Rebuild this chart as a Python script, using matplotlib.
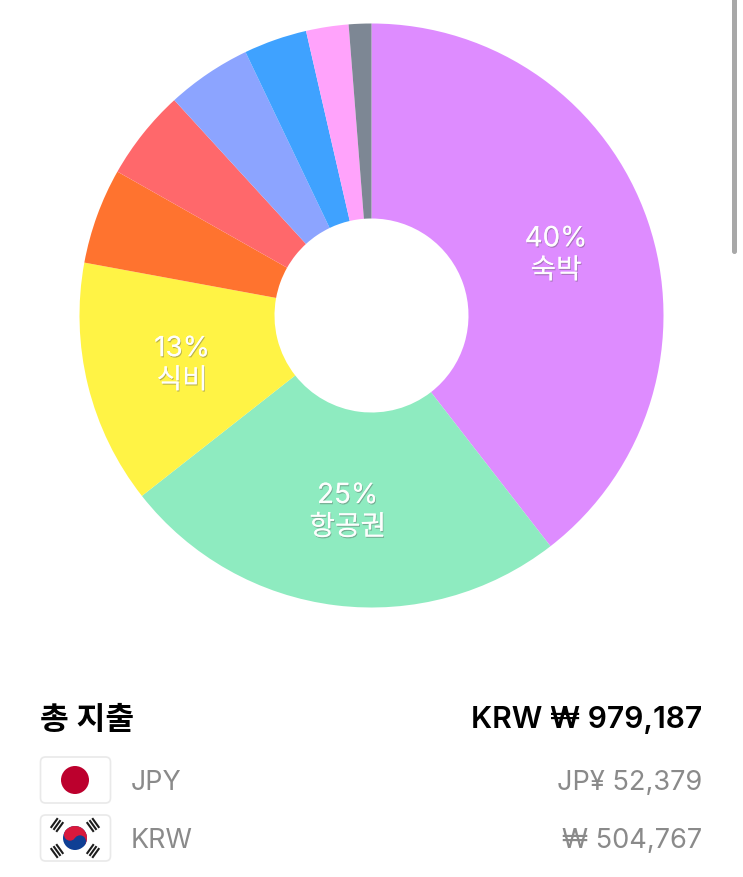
import numpy as np
import matplotlib
matplotlib.use("Agg")
import matplotlib.pyplot as plt
import matplotlib.patheffects as pe
from matplotlib.patches import Circle, FancyBboxPatch, Wedge

# share of spending per slice, clockwise from 12 o'clock
shares = [39.5, 24.9, 13.5, 5.3, 5.0, 4.7, 3.5, 2.35, 1.25]
colors = ["#de8cff", "#8eebc0", "#fff345", "#ff732f", "#ff686b",
          "#8ca4ff", "#3fa2ff", "#ffa3fb", "#7d8794"]
slice_labels = ["40%\n숙박", "25%\n항공권", "13%\n식비", "", "", "", "", "", ""]

total_title = "총 지출"
total_value = "KRW ₩ 979,187"
currencies = ["JPY", "KRW"]
currency_values = ["JP¥ 52,379", "₩ 504,767"]

W, H = 743, 877
FONT = ["Inter", "Noto Sans CJK KR", "DejaVu Sans"]

fig = plt.figure(figsize=(W / 100, H / 100), dpi=100, facecolor="white")

# pie axes: square around the donut, 292 px radius
cx, cy, r_out = 371.5, 315.5, 292
pie_ax = fig.add_axes([(cx - r_out) / W, 1 - (cy + r_out) / H, 2 * r_out / W, 2 * r_out / H])
pie_ax.pie(shares, colors=colors, startangle=90, counterclock=False, radius=1,
           wedgeprops=dict(width=1 - 97 / 292, linewidth=0))
pie_ax.set_xlim(-1, 1)
pie_ax.set_ylim(-1, 1)

shadow = [pe.withSimplePatchShadow(offset=(0.6, -0.9), shadow_rgbFace="#555555", alpha=0.4),
          pe.Normal()]
edges = np.cumsum([0] + shares) / sum(shares) * 2 * np.pi
for i, lab in enumerate(slice_labels):
    if not lab:
        continue
    mid = (edges[i] + edges[i + 1]) / 2
    pie_ax.text(0.668 * np.sin(mid), 0.668 * np.cos(mid) - 0.01, lab, color="white", alpha=0.9,
                ha="center", va="center", fontsize=20, family=FONT, linespacing=1.3,
                path_effects=shadow)

# overlay in pixel coordinates for the list below the chart
ax = fig.add_axes([0, 0, 1, 1])
ax.set_xlim(0, W)
ax.set_ylim(H, 0)
ax.axis("off")
ax.patch.set_alpha(0)

# scrollbar
ax.add_patch(FancyBboxPatch((732, -10), 5, 264, boxstyle="round,pad=0,rounding_size=2.5",
                            fc="#a8a8a8", ec="none"))

ax.text(40, 720, total_title, fontsize=22.5, fontweight="semibold", va="center", color="black", family=FONT)
ax.text(702, 720, total_value, fontsize=21.6, fontweight="semibold", va="center", ha="right",
        color="black", family=FONT)

rows_y = [780, 838]
for name, val, y in zip(currencies, currency_values, rows_y):
    ax.text(131, y + 3, name, fontsize=19.3, va="center", color="#8a8a8a", family=FONT)
    ax.text(702, y + 3, val, fontsize=19.6, va="center", ha="right", color="#8a8a8a", family=FONT)
    ax.add_patch(FancyBboxPatch((40.5, y - 23), 70, 46, boxstyle="round,pad=0,rounding_size=5",
                                fc="white", ec="#e9e9e9", lw=1.2))

# Japan flag
ax.add_patch(Circle((75, rows_y[0]), 14, fc="#bc002d", ec="none"))

# Korea flag
kx, ky = 75, rows_y[1]
tilt = 33.7
d = np.array([np.cos(np.radians(tilt)), np.sin(np.radians(tilt))])
r = 12
ax.add_patch(Circle((kx, ky), r, fc="#0f3f94", ec="none"))
ax.add_patch(Wedge((kx, ky), r, 180 + tilt, 360 + tilt, fc="#d8193c", ec="none"))
ax.add_patch(Circle((kx - d[0] * r / 2, ky - d[1] * r / 2), r / 2, fc="#d8193c", ec="none"))
ax.add_patch(Circle((kx + d[0] * r / 2, ky + d[1] * r / 2), r / 2, fc="#0f3f94", ec="none"))

# trigrams, three bars across each diagonal
for sx, sy in [(-1, -1), (1, -1), (-1, 1), (1, 1)]:
    tx, ty = kx + sx * 18, ky + sy * 13
    along = np.array([sx * 18, sy * 13]) / np.hypot(18, 13)
    across = np.array([-along[1], along[0]])
    for k in (-1, 0, 1):
        mx, my = tx + along[0] * k * 3.4, ty + along[1] * k * 3.4
        ax.plot([mx - across[0] * 6, mx + across[0] * 6], [my - across[1] * 6, my + across[1] * 6],
                color="#1c1c1c", lw=1.5, solid_capstyle="butt")

fig.savefig("out.png", dpi=100)
